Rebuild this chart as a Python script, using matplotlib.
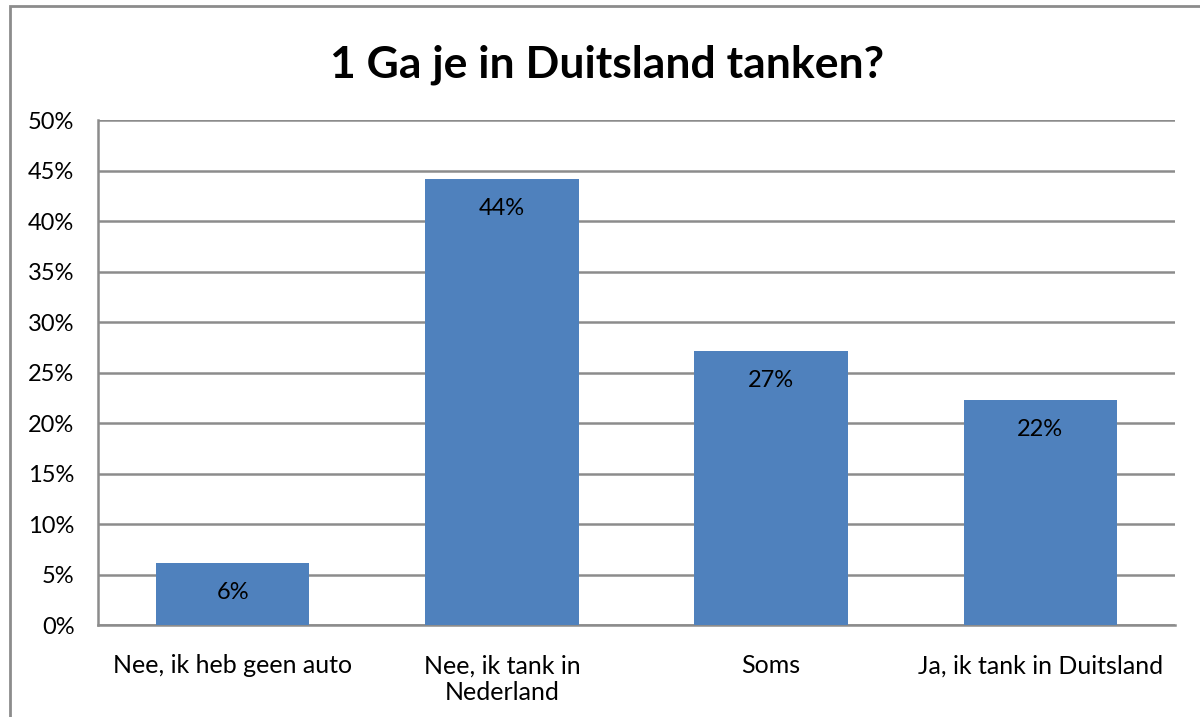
import matplotlib
matplotlib.use("Agg")

import matplotlib.pyplot as plt
from matplotlib.patches import Rectangle
from matplotlib.ticker import FuncFormatter

title = "1 Ga je in Duitsland tanken?"
categories = ["Nee, ik heb geen auto", "Nee, ik tank in\nNederland", "Soms", "Ja, ik tank in Duitsland"]
values = [6.15, 44.2, 27.1, 22.3]
yticks = [0, 5, 10, 15, 20, 25, 30, 35, 40, 45, 50]

plt.rcParams["font.family"] = ["Lato", "DejaVu Sans"]

fig = plt.figure(figsize=(12, 7.17), dpi=100)
ax = fig.add_axes([0.0817, 0.1283, 0.8975, 0.7043])

# outer chart border
fig.patches.append(Rectangle((10 / 1200, -0.01), 1.2, 1 - 6 / 717 + 0.01, transform=fig.transFigure,
                             fill=False, edgecolor="#8c8c8c", linewidth=2))

x = range(len(categories))
bars = ax.bar(x, values, width=0.57, color="#4F81BD", zorder=3)

for b, v in zip(bars, values):
    ax.text(b.get_x() + b.get_width() / 2, v - 1.9, f"{round(v):.0f}%", ha="center", va="top",
            fontsize=17, color="black", zorder=4)

ax.set_xlim(-0.5, len(categories) - 0.5)
ax.set_ylim(0, 50)
ax.set_yticks(yticks)
ax.yaxis.set_major_formatter(FuncFormatter(lambda v, p: f"{v:.0f}%"))
ax.set_xticks(list(x))
ax.set_xticklabels(categories, fontsize=18, linespacing=1.2)
ax.tick_params(axis="y", labelsize=17, length=0, pad=17)
ax.tick_params(axis="x", length=0, pad=21)
for lbl in ax.get_yticklabels():
    lbl.set_horizontalalignment("right")

ax.grid(axis="y", color="#8c8c8c", linewidth=1.8, zorder=0)
for side in ["top", "right"]:
    ax.spines[side].set_visible(False)
for side in ["left", "bottom"]:
    ax.spines[side].set_color("#8c8c8c")
    ax.spines[side].set_linewidth(1.8)

fig.text(0.506, 1 - 65 / 717, title, ha="center", va="center", fontsize=32, fontweight="bold")

fig.savefig("out.png", dpi=100)
